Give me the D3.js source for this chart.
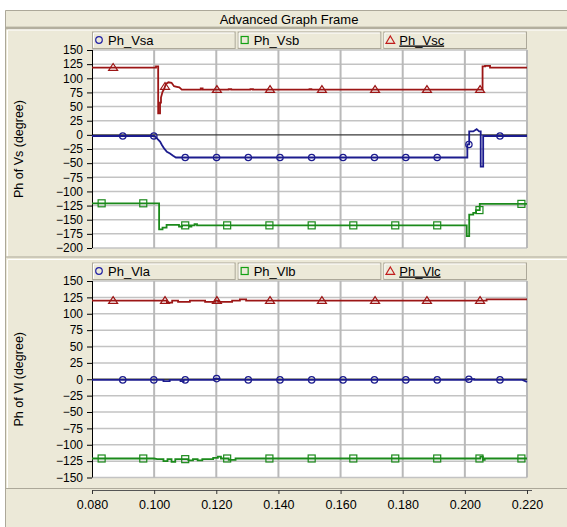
<!DOCTYPE html>
<html><head><meta charset="utf-8">
<script src="https://cdn.jsdelivr.net/npm/d3@7"></script>
<style>
html,body{margin:0;padding:0;background:#fff;}
svg{display:block;font-family:"Liberation Sans",Arial,sans-serif;}
</style></head><body>
<svg id="c" width="567" height="527"></svg>
<script>
// ---- axes ----
const timeTicks = [0.08, 0.10, 0.12, 0.14, 0.16, 0.18, 0.20, 0.22];
const vsTicks = [150, 125, 100, 75, 50, 25, 0, -25, -50, -75, -100, -125, -150, -175, -200];
const vlTicks = [150, 125, 100, 75, 50, 25, 0, -25, -50, -75, -100, -125, -150];

// ---- source voltage phase angles [time (s), degree] ----
const phVsa = [[0.0800,-2],[0.1000,-2],[0.1006,-4],[0.1012,-8],[0.1019,-12],[0.1025,-18],[0.1032,-24],
  [0.1041,-30],[0.1051,-33],[0.1061,-37],[0.1070,-40],[0.2008,-40],[0.2008,-17],[0.2014,-17],[0.2014,6],
  [0.2027,6],[0.2038,10],[0.2046,6],[0.2051,6],[0.2051,-56],[0.2059,-56],[0.2059,-2],[0.2200,-2]];
const phVsb = [[0.0800,-121],[0.1016,-121],[0.1016,-167],[0.1027,-167],[0.1027,-164],[0.1040,-164],
  [0.1040,-159],[0.1080,-159],[0.1080,-162],[0.1090,-162],[0.1090,-160],[0.1115,-160],[0.1115,-162],
  [0.1120,-162],[0.1120,-160],[0.1130,-160],[0.1130,-158],[0.1138,-158],[0.1138,-160],[0.2006,-160],
  [0.2006,-179],[0.2014,-179],[0.2014,-141],[0.2027,-141],[0.2027,-138],[0.2036,-138],[0.2036,-133],
  [0.2048,-133],[0.2048,-122],[0.2200,-122]];
const phVsc = [[0.0800,119],[0.1006,119],[0.1006,121],[0.1013,121],[0.1013,38],[0.1019,38],[0.1019,57],
  [0.1022,57],[0.1022,66],[0.1027,76],[0.1032,81],[0.1038,90],[0.1046,93],[0.1056,92],[0.1064,86],
  [0.1073,85],[0.1081,84],[0.1089,80],[0.1150,80],[0.1150,82],[0.1156,82],[0.1156,80],[0.1240,80],
  [0.1240,81],[0.1248,81],[0.1248,80],[0.1310,80],[0.1310,81],[0.1318,81],[0.1318,80],[0.1500,80],
  [0.1500,81],[0.1506,81],[0.1506,80],[0.2057,80],[0.2057,121],[0.2065,121],[0.2065,122],[0.2081,122],
  [0.2081,119],[0.2200,119]];

// ---- load voltage phase angles [time (s), degree] ----
const phVla = [[0.0800,-1],[0.1030,-1],[0.1030,-3],[0.1050,-3],[0.1050,-1],[0.1085,-1],[0.1085,-3],
  [0.1095,-3],[0.1095,-1],[0.1195,-1],[0.1195,1],[0.1210,1],[0.1210,-1],[0.2010,-1],[0.2010,0],
  [0.2030,0],[0.2030,-1],[0.2185,-1],[0.2200,-4]];
const phVlb = [[0.0800,-121],[0.1000,-121],[0.1010,-122],[0.1030,-122],[0.1030,-125],[0.1043,-125],
  [0.1043,-122],[0.1056,-122],[0.1056,-126],[0.1068,-126],[0.1068,-122],[0.1110,-122],[0.1110,-124],
  [0.1125,-124],[0.1125,-122],[0.1140,-122],[0.1140,-124],[0.1155,-124],[0.1155,-122],[0.1190,-122],
  [0.1190,-120],[0.1205,-120],[0.1205,-118],[0.1215,-118],[0.1215,-121],[0.1240,-121],[0.1240,-123],
  [0.1262,-123],[0.1262,-121],[0.2050,-121],[0.2050,-118],[0.2058,-118],[0.2058,-123],[0.2064,-123],
  [0.2064,-121],[0.2200,-121]];
const phVlc = [[0.0800,120],[0.1041,120],[0.1041,117],[0.1058,117],[0.1058,120],[0.1077,120],[0.1077,118],
  [0.1115,118],[0.1115,120],[0.1164,120],[0.1164,118],[0.1196,118],[0.1196,120],[0.1206,120],[0.1206,118],
  [0.1251,118],[0.1251,120],[0.1276,120],[0.1276,122],[0.1296,122],[0.1296,120],[0.2070,120],[0.2070,122],
  [0.2200,122]];

// ---- marker sample times ----
const circleTimes = [0.0899,0.0999,0.1100,0.1201,0.1303,0.1405,0.1507,0.1608,0.1709,0.1810,0.1911,0.2013,0.2113];
const squareTimes = [0.0831,0.0965,0.1100,0.1235,0.1371,0.1507,0.1641,0.1776,0.1911,0.2047,0.2182];
const triangleTimes = [0.0868,0.1035,0.1202,0.1373,0.1540,0.1711,0.1878,0.2049];

const W = 567, H = 527;
const beige = "#ece9d8", edge = "#aca899";
const blue = "#1c1c8e", green = "#1b8a1b", red = "#9c1616";

const svg = d3.select("#c");
const x = d3.scaleLinear().domain([0.08, 0.22]).range([92, 527]);

// outer frame
svg.append("rect").attr("x", 5).attr("y", 10).attr("width", W - 5).attr("height", H - 10).attr("fill", beige);
svg.append("path").attr("d", "M5.5,527V10.5H567").attr("fill", "none").attr("stroke", edge);
svg.append("text").attr("x", 289).attr("y", 23.5).attr("text-anchor", "middle")
  .attr("font-size", 13).attr("fill", "#000").text("Advanced Graph Frame");
svg.append("rect").attr("x", 6).attr("y", 26.6).attr("width", W - 6).attr("height", 2.7).attr("fill", "#b3af9e");

function valueAt(pts, t) {
  for (let i = 1; i < pts.length; i++) {
    const [t0, v0] = pts[i - 1], [t1, v1] = pts[i];
    if (t >= t0 && t <= t1 && t1 > t0) return v0 + (v1 - v0) * (t - t0) / (t1 - t0);
  }
  return pts[pts.length - 1][1];
}

const shapes = {
  circle: g => g.append("circle").attr("r", 3.2),
  square: g => g.append("rect").attr("x", -3.5).attr("y", -3.5).attr("width", 7).attr("height", 7),
  triangle: g => g.append("path").attr("d", "M0,-4L4.5,2.8L-4.5,2.8Z")
};

function drawPanel(cfg, idx) {
  const g = svg.append("g");
  // raised panel
  g.append("path").attr("d", `M7.5,${cfg.panelBottom}V${cfg.panelTop + 0.5}H567`)
    .attr("fill", "none").attr("stroke", "#fff");
  g.append("path").attr("d", `M5,${cfg.panelBottom + 0.5}H567`).attr("fill", "none").attr("stroke", edge);

  const y = d3.scaleLinear().domain(cfg.domain).range([cfg.plotBottom, cfg.plotTop]);
  const x0 = x.range()[0], x1 = x.range()[1];

  g.append("rect").attr("x", x0).attr("y", cfg.plotTop).attr("width", x1 - x0)
    .attr("height", cfg.plotBottom - cfg.plotTop).attr("fill", "#fff");

  // grid
  g.append("g").selectAll("line").data(cfg.ticks.filter(d => d !== 0)).join("line")
    .attr("x1", x0).attr("x2", x1).attr("y1", d => y(d)).attr("y2", d => y(d))
    .attr("stroke", "#c3c3c3").attr("stroke-width", 1.5);
  g.append("g").selectAll("line").data(timeTicks.slice(1)).join("line")
    .attr("x1", d => x(d)).attr("x2", d => x(d)).attr("y1", cfg.plotTop).attr("y2", cfg.plotBottom)
    .attr("stroke", "#b9b9b9").attr("stroke-width", 2);
  g.append("line").attr("x1", x0).attr("x2", x1).attr("y1", y(0)).attr("y2", y(0))
    .attr("stroke", "#3a3a3a").attr("stroke-width", 1.3);

  // y axis
  const ax = g.append("g").attr("transform", `translate(${x0},0)`)
    .call(d3.axisLeft(y).tickValues(cfg.ticks).tickSize(5).tickPadding(4).tickFormat(d3.format("d")));
  ax.select(".domain").attr("stroke", "#000").attr("d", `M0.5,${cfg.plotTop}V${cfg.plotBottom}`);
  ax.selectAll(".tick line").attr("stroke", "#000");
  ax.selectAll(".tick text").attr("font-size", 12).attr("fill", "#000")
    .attr("font-family", "'Liberation Sans', Arial, sans-serif");

  // traces
  const clipId = "clip" + idx;
  g.append("clipPath").attr("id", clipId).append("rect")
    .attr("x", x0).attr("y", cfg.plotTop - 1).attr("width", x1 - x0 + 1).attr("height", cfg.plotBottom - cfg.plotTop + 2);
  const line = d3.line().x(d => x(d[0])).y(d => y(d[1]));
  const traces = g.append("g").attr("clip-path", `url(#${clipId})`);
  cfg.series.forEach(s => {
    traces.append("path").datum(s.data).attr("d", line).attr("fill", "none")
      .attr("stroke", s.color).attr("stroke-width", 1.8);
  });
  cfg.series.forEach(s => {
    const mg = traces.append("g").attr("fill", "none").attr("stroke", s.color).attr("stroke-width", 1.2);
    s.times.forEach(t => {
      const m = mg.append("g").attr("transform", `translate(${x(t)},${y(valueAt(s.data, t))})`);
      shapes[s.shape](m);
    });
  });

  // legend
  const lw = (x1 - x0 - 4) / 3;
  cfg.series.forEach((s, i) => {
    const lx = x0 + i * (lw + 2), ly = cfg.legendTop;
    const lg = g.append("g").attr("transform", `translate(${lx},${ly})`);
    lg.append("rect").attr("x", 0.5).attr("y", 0.5).attr("width", lw - 1).attr("height", 16.5)
      .attr("fill", beige).attr("stroke", edge);
    lg.append("path").attr("d", `M1.5,16V1.5H${lw - 1.5}`).attr("fill", "none").attr("stroke", "#fff");
    const mk = lg.append("g").attr("transform", "translate(7,8.5)").attr("fill", "none")
      .attr("stroke", s.legendColor).attr("stroke-width", 1.2);
    if (s.shape === "circle") mk.append("circle").attr("r", 3.3);
    if (s.shape === "square") mk.append("rect").attr("x", -3.5).attr("y", -3.5).attr("width", 7).attr("height", 7);
    if (s.shape === "triangle") mk.append("path").attr("d", "M0,-4L4.3,3.3L-4.3,3.3Z");
    const tx = lg.append("text").attr("x", 16).attr("y", 13).attr("font-size", 13).attr("fill", "#000").text(s.name);
    if (s.selected) tx.attr("text-decoration", "underline");
  });

  // y title
  g.append("text").attr("transform", `translate(22.5,${(cfg.plotTop + cfg.plotBottom) / 2}) rotate(-90)`)
    .attr("text-anchor", "middle").attr("font-size", 12.5).attr("fill", "#000").text(cfg.title);
}

drawPanel({
  panelTop: 29.5, panelBottom: 256.5, plotTop: 50, plotBottom: 248, legendTop: 31.5,
  domain: [-200, 150], ticks: vsTicks, title: "Ph of Vs (degree)",
  series: [
    { name: "Ph_Vsa", data: phVsa, color: blue, legendColor: "#2323a6", shape: "circle", times: circleTimes },
    { name: "Ph_Vsb", data: phVsb, color: green, legendColor: "#13a013", shape: "square", times: squareTimes },
    { name: "Ph_Vsc", data: phVsc, color: red, legendColor: "#c01c1c", shape: "triangle", times: triangleTimes, selected: true }
  ]
}, 0);

drawPanel({
  panelTop: 259, panelBottom: 488, plotTop: 281, plotBottom: 477.5, legendTop: 262.5,
  domain: [-150, 150], ticks: vlTicks, title: "Ph of Vl (degree)",
  series: [
    { name: "Ph_Vla", data: phVla, color: blue, legendColor: "#2323a6", shape: "circle", times: circleTimes },
    { name: "Ph_Vlb", data: phVlb, color: green, legendColor: "#13a013", shape: "square", times: squareTimes },
    { name: "Ph_Vlc", data: phVlc, color: red, legendColor: "#c01c1c", shape: "triangle", times: triangleTimes, selected: true }
  ]
}, 1);

// time axis
const xa = svg.append("g").attr("transform", "translate(0,490)")
  .call(d3.axisBottom(x).tickValues(timeTicks).tickSize(4).tickPadding(6).tickFormat(d3.format(".3f")));
xa.select(".domain").attr("stroke", "#555").attr("d", "M92,0.5H532");
xa.selectAll(".tick line").attr("stroke", "#333");
xa.selectAll(".tick text").attr("font-size", 12.5).attr("fill", "#000")
  .attr("font-family", "'Liberation Sans', Arial, sans-serif");
</script>
</body></html>
